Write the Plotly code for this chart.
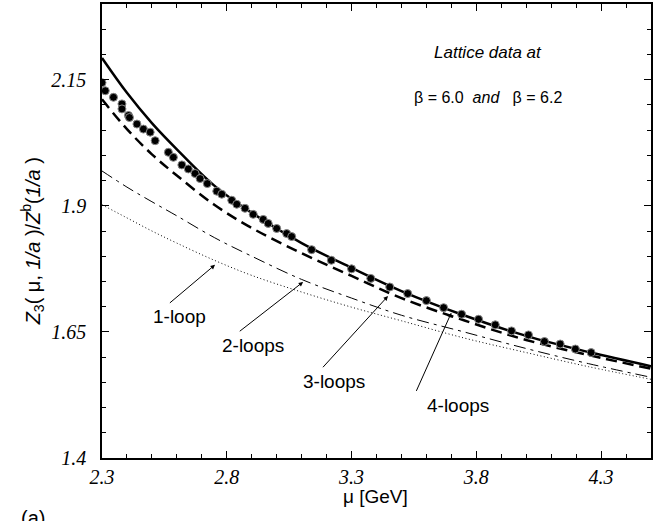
import plotly.graph_objects as go

# ---- data ----
mu_grid = [2.3, 2.4, 2.5, 2.6, 2.75, 2.9, 3.1, 3.3, 3.5, 3.75, 4.0, 4.25, 4.5]
z_1loop = [1.902, 1.876, 1.850, 1.826, 1.792, 1.762, 1.729, 1.699, 1.672, 1.638, 1.609, 1.581, 1.556]
z_2loop = [1.969, 1.937, 1.908, 1.880, 1.837, 1.800, 1.754, 1.717, 1.683, 1.650, 1.617, 1.587, 1.560]
z_3loop = [2.111, 2.052, 2.002, 1.960, 1.902, 1.856, 1.806, 1.761, 1.717, 1.673, 1.634, 1.604, 1.577]
z_4loop = [2.193, 2.124, 2.064, 2.012, 1.940, 1.886, 1.826, 1.777, 1.731, 1.683, 1.642, 1.610, 1.582]

mu_b62 = [2.300, 2.313, 2.346, 2.380, 2.380, 2.406, 2.410, 2.440, 2.466, 2.493, 2.513, 2.566,
          2.586, 2.620, 2.646, 2.673, 2.693, 2.722, 2.760, 2.780, 2.820, 2.840, 2.873, 2.906,
          2.946, 2.966, 3.000, 3.040, 3.060]
z_b62 = [2.144, 2.128, 2.115, 2.102, 2.092, 2.079, 2.075, 2.062, 2.052, 2.046, 2.029, 2.006,
         1.996, 1.981, 1.973, 1.964, 1.954, 1.944, 1.929, 1.923, 1.911, 1.903, 1.895, 1.883,
         1.873, 1.865, 1.855, 1.845, 1.839]

mu_b60 = [3.140, 3.219, 3.300, 3.377, 3.453, 3.525, 3.600, 3.669, 3.741, 3.809, 3.876, 3.941,
          4.009, 4.073, 4.136, 4.197, 4.260]
z_b60 = [1.813, 1.792, 1.775, 1.756, 1.739, 1.726, 1.712, 1.698, 1.685, 1.675, 1.664, 1.652,
         1.644, 1.631, 1.626, 1.616, 1.609]

x_tickvals = [2.3, 2.8, 3.3, 3.8, 4.3]
x_ticktext = ["2.3", "2.8", "3.3", "3.8", "4.3"]
y_tickvals = [1.4, 1.65, 1.9, 2.15]
y_ticktext = ["1.4", "1.65", "1.9", "2.15"]

loop_labels = ["1-loop", "2-loops", "3-loops", "4-loops"]
label_pos = [(2.609, 1.681), (2.905, 1.624), (3.229, 1.552), (3.725, 1.504)]
arrow_tail = [(2.566, 1.705), (2.846, 1.649), (3.180, 1.577), (3.557, 1.530)]
arrow_head = [(2.753, 1.783), (3.106, 1.749), (3.446, 1.721), (3.700, 1.688)]

fig = go.Figure()

fig.add_trace(go.Scatter(x=mu_grid, y=z_1loop, mode="lines",
                         line=dict(color="black", width=1, dash="1px,2.5px", shape="spline")))
fig.add_trace(go.Scatter(x=mu_grid, y=z_2loop, mode="lines",
                         line=dict(color="black", width=1, dash="12px,5px,3px,5px", shape="spline")))
fig.add_trace(go.Scatter(x=mu_grid, y=z_3loop, mode="lines",
                         line=dict(color="black", width=2.5, dash="11px,6px", shape="spline")))
fig.add_trace(go.Scatter(x=mu_grid, y=z_4loop, mode="lines",
                         line=dict(color="black", width=2.5, shape="spline")))

for xs, ys in [(mu_b62, z_b62), (mu_b60, z_b60)]:
    fig.add_trace(go.Scatter(x=xs, y=ys, mode="markers",
                             marker=dict(color="black", size=8,
                                         line=dict(color="#888888", width=1))))

sans = "Liberation Sans, Arial, sans-serif"
serif = "Liberation Serif, Times New Roman, serif"

ann = []
for (tx, ty), (hx, hy) in zip(arrow_tail, arrow_head):
    ann.append(dict(x=hx, y=hy, ax=tx, ay=ty, xref="x", yref="y", axref="x", ayref="y",
                    text="", showarrow=True, arrowhead=2, arrowsize=0.9, arrowwidth=1,
                    arrowcolor="black", standoff=0))
for lab, (lx, ly) in zip(loop_labels, label_pos):
    ann.append(dict(x=lx, y=ly, xref="x", yref="y", text=lab, showarrow=False,
                    xanchor="center", yanchor="middle",
                    font=dict(family=sans, size=19, color="black")))

ann.append(dict(x=3.845, y=2.203, xref="x", yref="y", text="<i>Lattice data at</i>",
                showarrow=False, xanchor="center", yanchor="middle",
                font=dict(family=sans, size=17, color="black")))
ann.append(dict(x=3.845, y=2.115, xref="x", yref="y",
                text="β = 6.0&nbsp;&nbsp;<i>and</i>&nbsp;&nbsp;&nbsp;β = 6.2",
                showarrow=False, xanchor="center", yanchor="middle",
                font=dict(family=sans, size=16, color="black")))
ann.append(dict(x=-0.125, y=0.478, xref="paper", yref="paper", textangle=-90,
                xanchor="center", yanchor="middle",
                text="<i>Z</i><sub>3</sub>( μ, <i>1/a</i> )/<i>Z</i><sup>b</sup>(<i>1/a</i> )",
                showarrow=False, font=dict(family=sans, size=20, color="black")))
ann.append(dict(x=0.499, y=-0.0855, xref="paper", yref="paper", text="μ [GeV]",
                xanchor="center", yanchor="middle",
                showarrow=False, font=dict(family=sans, size=19, color="black")))
ann.append(dict(x=-0.125, y=-0.1316, xref="paper", yref="paper", text="(a)",
                xanchor="center", yanchor="middle",
                showarrow=False, font=dict(family=sans, size=20, color="black")))

axis_common = dict(showline=True, linecolor="black", linewidth=1.5, mirror="allticks",
                   ticks="inside", ticklen=7, tickwidth=1, tickcolor="black",
                   showgrid=False, zeroline=False,
                   tickfont=dict(family=serif, size=20, color="black", style="italic"))

fig.update_layout(
    width=670, height=521,
    margin=dict(l=102, r=19, t=2, b=63),
    paper_bgcolor="white", plot_bgcolor="white",
    showlegend=False,
    annotations=ann,
    xaxis=dict(range=[2.3, 4.5], tickvals=x_tickvals, ticktext=x_ticktext,
               minor=dict(dtick=0.1, tick0=2.3, ticks="inside", ticklen=4, tickcolor="black"),
               **axis_common),
    yaxis=dict(range=[1.4, 2.3], tickvals=y_tickvals, ticktext=y_ticktext,
               minor=dict(dtick=0.05, tick0=1.4, ticks="inside", ticklen=4, tickcolor="black"),
               ticklabelstandoff=10, **axis_common),
)

fig.write_html("out.html")
